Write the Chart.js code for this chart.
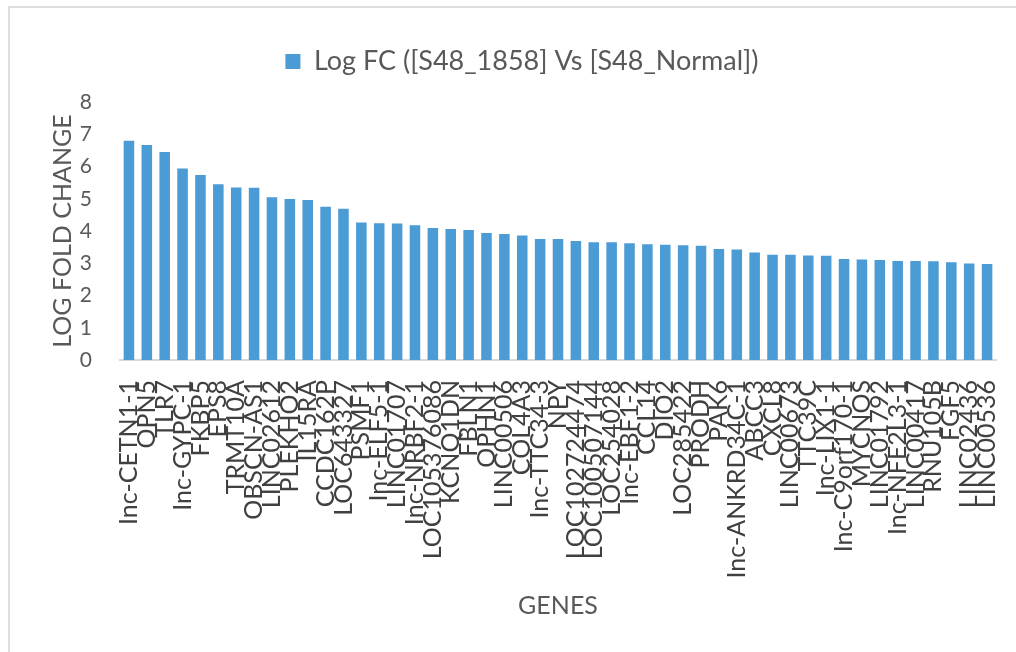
<!DOCTYPE html>
<html>
<head>
<meta charset="utf-8">
<script src="https://cdn.jsdelivr.net/npm/chart.js@4/dist/chart.umd.min.js"></script>
<style>
  html, body { margin: 0; padding: 0; background: #fff; overflow: hidden; }
  #frame { position: absolute; left: 8px; top: 6px; width: 1040px; height: 700px; border: 2px solid #dedede; box-sizing: border-box; }
  #wrap { position: absolute; left: 0; top: 0; width: 1016px; height: 652px; }
</style>
</head>
<body>
<div id="frame"></div>
<div id="wrap"><canvas id="chart" width="1016" height="652"></canvas></div>
<script>
// Genes ranked by log fold change, S48_1858 against S48_Normal
const genes = [
  'Inc-CETN1-1', 'OPN5', 'TLR7', 'Inc-GYPC-1', 'FKBP5', 'EPS8', 'TRMT10A', 'OBSCN-AS1',
  'LINC02612', 'PLEKHO2', 'IL15RA', 'CCDC162P', 'LOC643327', 'PSMF1', 'Inc-ELF5-1',
  'LINC01707', 'Inc-NRBF2-1', 'LOC105376086', 'KCNQ1DN', 'FBLN1', 'OPHN1', 'LINC00506',
  'COL4A3', 'Inc-TTC34-3', 'NPY', 'LOC102724474', 'LOC100507144', 'LOC254028',
  'Inc-EBF1-2', 'CCL14', 'DIO2', 'LOC285422', 'PRODH', 'PAK6', 'Inc-ANKRD34C-1', 'ABCC3',
  'CXCL8', 'LINC00673', 'TTC39C', 'Inc-LIX1-1', 'Inc-C9orf170-1', 'MYCNOS', 'LINC01792',
  'Inc-NFE2L3-1', 'LINC00417', 'RNU105B', 'FGF5', 'LINC02436', 'LINC00536'
];
const logFC = [
  6.80, 6.67, 6.45, 5.94, 5.74, 5.45, 5.35, 5.34,
  5.05, 4.99, 4.96, 4.75, 4.69, 4.26, 4.24,
  4.23, 4.18, 4.09, 4.06, 4.03, 3.94, 3.91,
  3.86, 3.75, 3.75, 3.69, 3.65, 3.65,
  3.62, 3.59, 3.57, 3.56, 3.54, 3.44, 3.43, 3.33,
  3.26, 3.26, 3.24, 3.23, 3.13, 3.12, 3.10,
  3.07, 3.07, 3.06, 3.03, 2.99, 2.98
];
const yTicks = [0, 1, 2, 3, 4, 5, 6, 7, 8];
const seriesName = 'Log FC ([S48_1858] Vs [S48_Normal])';

const FONT = 'Lato, "Open Sans", sans-serif';
const TEXT = '#595959';

// Extra room between the legend and the plot area
const legendGap = {
  id: 'legendGap',
  beforeInit(chart) {
    const fit = chart.legend.fit;
    chart.legend.fit = function () {
      fit.call(this);
      this.height += 17;
    };
  }
};

new Chart(document.getElementById('chart'), {
  type: 'bar',
  data: {
    labels: genes,
    datasets: [{
      label: seriesName,
      data: logFC,
      backgroundColor: '#4b9bd5',
      borderWidth: 0,
      categoryPercentage: 1.0,
      barPercentage: 0.59
    }]
  },
  plugins: [legendGap],
  options: {
    responsive: false,
    animation: false,
    devicePixelRatio: 1,
    layout: { padding: { left: 48, right: 20, top: 40, bottom: 30 } },
    plugins: {
      legend: {
        display: true,
        position: 'top',
        labels: {
          color: TEXT,
          font: { family: FONT, size: 27 },
          boxWidth: 15,
          boxHeight: 15,
          padding: 8
        }
      },
      tooltip: { enabled: false }
    },
    scales: {
      x: {
        grid: { display: false },
        border: { display: true, color: '#d9d9d9', width: 2 },
        ticks: {
          autoSkip: false,
          maxRotation: 90,
          minRotation: 90,
          color: '#404040',
          font: { family: FONT, size: 25 },
          padding: 12
        },
        title: {
          display: true,
          text: 'GENES',
          color: TEXT,
          font: { family: FONT, size: 25 },
          padding: { top: 4, bottom: 1 }
        },
        afterFit: (s) => {
          s.height = 262;
          s.paddingLeft = 0;
          s.paddingRight = 0;
        }
      },
      y: {
        min: 0,
        max: 8,
        grid: { display: false },
        border: { display: false },
        afterBuildTicks: (s) => { s.ticks = yTicks.map(v => ({ value: v })); },
        ticks: {
          color: TEXT,
          font: { family: FONT, size: 21 },
          padding: 20
        },
        title: {
          display: true,
          text: 'LOG FOLD CHANGE',
          color: TEXT,
          font: { family: FONT, size: 25 },
          padding: { top: 0, bottom: 4 }
        },
        afterFit: (s) => { s.width = 72; }
      }
    }
  }
});
</script>
</body>
</html>
